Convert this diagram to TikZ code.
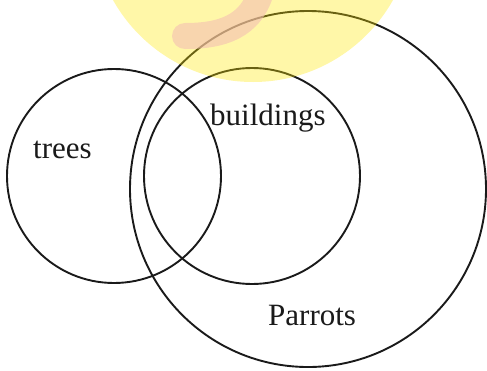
\documentclass[tikz,border=0pt]{standalone}
\usepackage{fontspec}
\setmainfont{Liberation Serif}
\usetikzlibrary{positioning}
\definecolor{wmyellow}{RGB}{255,232,6}
\definecolor{wmpeach}{RGB}{244,190,180}
\definecolor{ink}{HTML}{1A1A1A}
\begin{document}
\begin{tikzpicture}[x=1pt,y=-1pt,
  set/.style={draw=ink,line width=1.9pt,circle,inner sep=0pt},
  lbl/.style={anchor=base west,inner sep=0pt,text=ink,font=\fontsize{31}{31}\selectfont}]
\useasboundingbox (0,0) rectangle (487,370);
% the three sets
\node[set,minimum size=214pt] (trees) at (114,176) {};
\node[set,minimum size=216pt] (buildings) at (252,176) {};
\node[set,minimum size=356pt] (parrots) at (308,189) {};
\node[lbl] (treestext) at (33,158) {trees};
\node[lbl] (buildingstext) at (210,125) {buildings};
\node[lbl] (parrotstext) at (268,325) {Parrots};
% faint logo on top
\fill[wmyellow,fill opacity=0.35] (253,-78.5) circle (160.5);
\draw[wmpeach,draw opacity=0.6,line width=26pt,line cap=round] (262,-12) .. controls (252,28) and (220,36) .. (185,36);
\end{tikzpicture}
\end{document}
